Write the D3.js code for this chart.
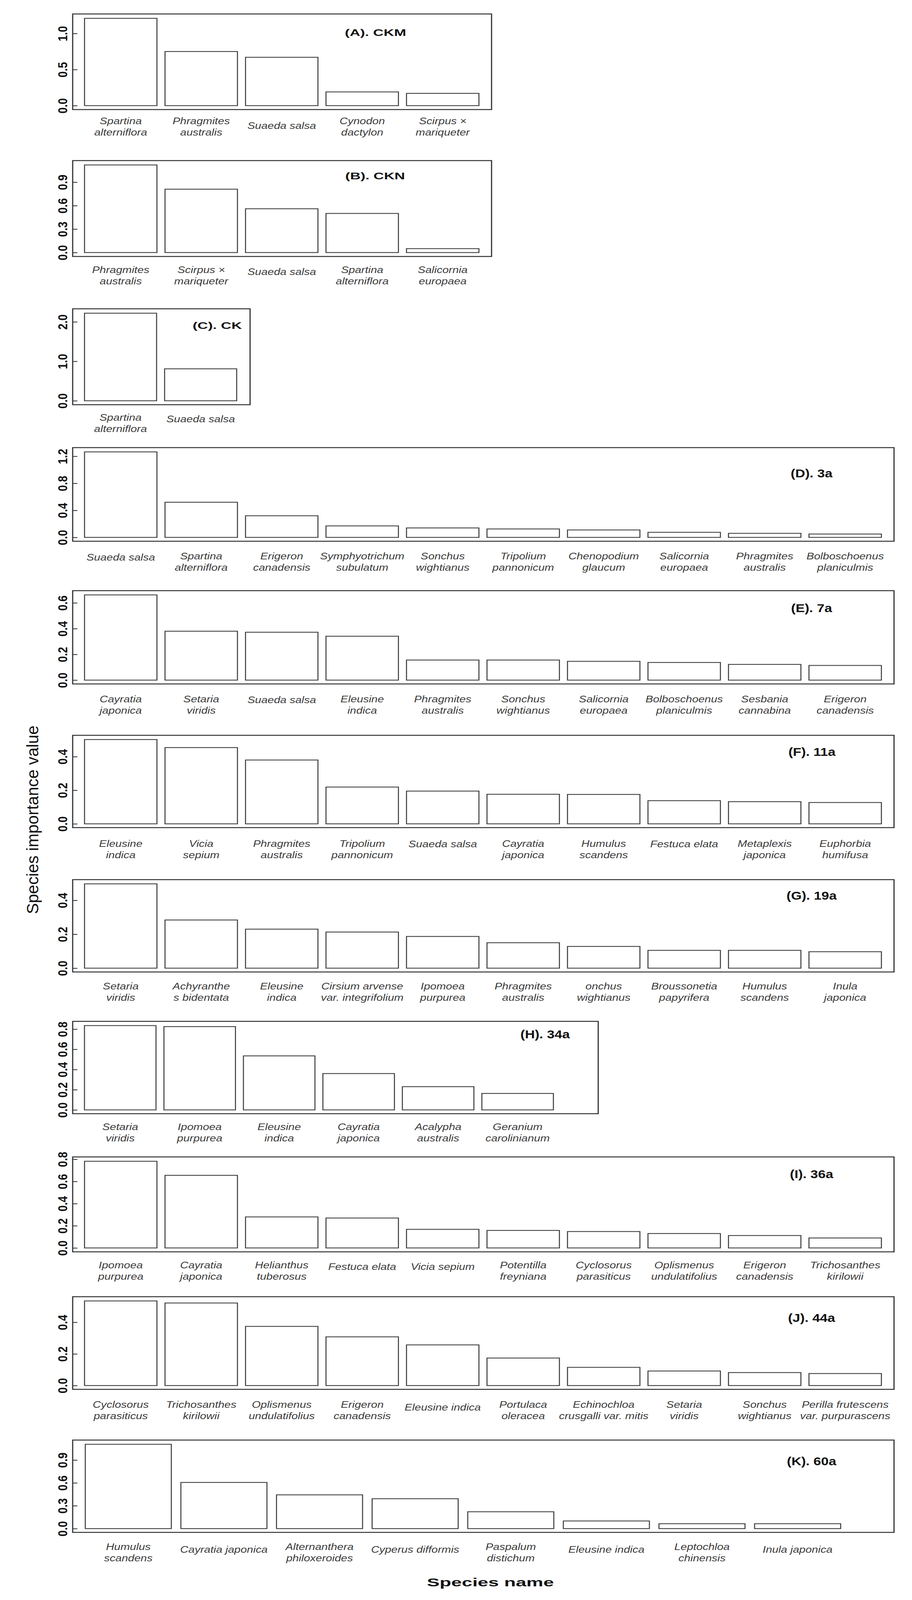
<!DOCTYPE html>
<html>
<head>
<meta charset="utf-8">
<script src="https://cdn.jsdelivr.net/npm/d3@7/dist/d3.min.js"></script>
<style>
  html, body { margin: 0; padding: 0; background: #fff; overflow: hidden; }
  svg { display: block; width: 100vw; height: 100vh; }
</style>
</head>
<body>
<svg id="chart" viewBox="0 0 2334 4922" preserveAspectRatio="none"></svg>
<script>
// ---- data: species (x categories), importance values, y tick labels per panel ----
const speciesA = ["Spartina\nalterniflora", "Phragmites\naustralis", "Suaeda salsa", "Cynodon\ndactylon", "Scirpus ×\nmariqueter"];
const valuesA = [1.21, 0.75, 0.67, 0.19, 0.17];
const ticksA = [0, 0.5, 1.0];

const speciesB = ["Phragmites\naustralis", "Scirpus ×\nmariqueter", "Suaeda salsa", "Spartina\nalterniflora", "Salicornia\neuropaea"];
const valuesB = [1.12, 0.81, 0.56, 0.50, 0.05];
const ticksB = [0, 0.3, 0.6, 0.9];

const speciesC = ["Spartina\nalterniflora", "Suaeda salsa"];
const valuesC = [2.22, 0.81];
const ticksC = [0, 1.0, 2.0];

const speciesD = ["Suaeda salsa", "Spartina\nalterniflora", "Erigeron\ncanadensis", "Symphyotrichum\nsubulatum", "Sonchus\nwightianus",
  "Tripolium\npannonicum", "Chenopodium\nglaucum", "Salicornia\neuropaea", "Phragmites\naustralis", "Bolboschoenus\nplaniculmis"];
const valuesD = [1.265, 0.52, 0.32, 0.17, 0.14, 0.125, 0.11, 0.075, 0.06, 0.05];
const ticksD = [0, 0.4, 0.8, 1.2];

const speciesE = ["Cayratia\njaponica", "Setaria\nviridis", "Suaeda salsa", "Eleusine\nindica", "Phragmites\naustralis",
  "Sonchus\nwightianus", "Salicornia\neuropaea", "Bolboschoenus\nplaniculmis", "Sesbania\ncannabina", "Erigeron\ncanadensis"];
const valuesE = [0.662, 0.38, 0.372, 0.341, 0.156, 0.156, 0.146, 0.137, 0.122, 0.114];
const ticksE = [0, 0.2, 0.4, 0.6];

const speciesF = ["Eleusine\nindica", "Vicia\nsepium", "Phragmites\naustralis", "Tripolium\npannonicum", "Suaeda salsa",
  "Cayratia\njaponica", "Humulus\nscandens", "Festuca elata", "Metaplexis\njaponica", "Euphorbia\nhumifusa"];
const valuesF = [0.502, 0.454, 0.38, 0.219, 0.195, 0.176, 0.175, 0.138, 0.132, 0.127];
const ticksF = [0, 0.2, 0.4];

const speciesG = ["Setaria\nviridis", "Achyranthe\ns bidentata", "Eleusine\nindica", "Cirsium arvense\nvar. integrifolium", "Ipomoea\npurpurea",
  "Phragmites\naustralis", "onchus\nwightianus", "Broussonetia\npapyrifera", "Humulus\nscandens", "Inula\njaponica"];
const valuesG = [0.497, 0.284, 0.23, 0.213, 0.187, 0.15, 0.128, 0.105, 0.105, 0.097];
const ticksG = [0, 0.2, 0.4];

const speciesH = ["Setaria\nviridis", "Ipomoea\npurpurea", "Eleusine\nindica", "Cayratia\njaponica", "Acalypha\naustralis", "Geranium\ncarolinianum"];
const valuesH = [0.835, 0.825, 0.535, 0.36, 0.23, 0.163];
const ticksH = [0, 0.2, 0.4, 0.6, 0.8];

const speciesI = ["Ipomoea\npurpurea", "Cayratia\njaponica", "Helianthus\ntuberosus", "Festuca elata", "Vicia sepium",
  "Potentilla\nfreyniana", "Cyclosorus\nparasiticus", "Oplismenus\nundulatifolius", "Erigeron\ncanadensis", "Trichosanthes\nkirilowii"];
const valuesI = [0.782, 0.655, 0.28, 0.27, 0.168, 0.158, 0.148, 0.13, 0.112, 0.09];
const ticksI = [0, 0.2, 0.4, 0.6, 0.8];

const speciesJ = ["Cyclosorus\nparasiticus", "Trichosanthes\nkirilowii", "Oplismenus\nundulatifolius", "Erigeron\ncanadensis", "Eleusine indica",
  "Portulaca\noleracea", "Echinochloa\ncrusgalli var. mitis", "Setaria\nviridis", "Sonchus\nwightianus", "Perilla frutescens\nvar. purpurascens"];
const valuesJ = [0.535, 0.522, 0.374, 0.308, 0.257, 0.174, 0.115, 0.092, 0.082, 0.076];
const ticksJ = [0, 0.2, 0.4];

const speciesK = ["Humulus\nscandens", "Cayratia japonica", "Alternanthera\nphiloxeroides", "Cyperus difformis", "Paspalum\ndistichum",
  "Eleusine indica", "Leptochloa\nchinensis", "Inula japonica"];
const valuesK = [1.107, 0.606, 0.443, 0.392, 0.221, 0.10, 0.064, 0.064];
const ticksK = [0, 0.3, 0.6, 0.9];

const titles = ["(A). CKM", "(B). CKN", "(C). CK", "(D). 3a", "(E). 7a", "(F). 11a", "(G). 19a", "(H). 34a", "(I). 36a", "(J). 44a", "(K). 60a"];

// ---- layout of each panel (pixels in the 2334 x 4922 drawing) ----
const layout = [
  { species: speciesA, values: valuesA, ticks: ticksA, top: 43,   bottom: 337,  right: 1258, step: 206,   tx: 961,  tdy: 68, tsize: 28, tlen: 157, ldy: 45, sdy: 15 },
  { species: speciesB, values: valuesB, ticks: ticksB, top: 494,  bottom: 789,  right: 1258, step: 206,   tx: 960,  tdy: 58, tsize: 28, tlen: 153, ldy: 51, sdy: 6 },
  { species: speciesC, values: valuesC, ticks: ticksC, top: 950,  bottom: 1245, right: 640,  step: 205,   tx: 556,  tdy: 62, tsize: 28, tlen: 126, ldy: 49, sdy: 5 },
  { species: speciesD, values: valuesD, ticks: ticksD, top: 1377, bottom: 1665, right: 2288, step: 206,   tx: 2077, tdy: 91, tsize: 35, ldy: 56, sdy: 3 },
  { species: speciesE, values: valuesE, ticks: ticksE, top: 1817, bottom: 2104, right: 2288, step: 206,   tx: 2077, tdy: 66, tsize: 35, ldy: 56, sdy: 3 },
  { species: speciesF, values: valuesF, ticks: ticksF, top: 2262, bottom: 2546, right: 2288, step: 206,   tx: 2078, tdy: 63, tsize: 35, ldy: 59, sdy: 1 },
  { species: speciesG, values: valuesG, ticks: ticksG, top: 2706, bottom: 2990, right: 2288, step: 206,   tx: 2077, tdy: 62, tsize: 35, ldy: 54, sdy: 0 },
  { species: speciesH, values: valuesH, ticks: ticksH, top: 3142, bottom: 3426, right: 1531, step: 203.4, tx: 1395, tdy: 52, tsize: 35, ldy: 50, sdy: 0 },
  { species: speciesI, values: valuesI, ticks: ticksI, top: 3559, bottom: 3851, right: 2288, step: 206,   tx: 2077, tdy: 65, tsize: 35, ldy: 51, sdy: 5 },
  { species: speciesJ, values: valuesJ, ticks: ticksJ, top: 3989, bottom: 4274, right: 2288, step: 206,   tx: 2077, tdy: 77, tsize: 35, ldy: 57, sdy: 8 },
  { species: speciesK, values: valuesK, ticks: ticksK, top: 4430, bottom: 4714, right: 2288, step: 244.7, tx: 2077, tdy: 78, tsize: 35, ldy: 54, sdy: 8 }
];

const left = 186;
const font = "'Liberation Sans', Arial, Helvetica, sans-serif";
const svg = d3.select("#chart");

layout.forEach((p, k) => {
  const n = p.values.length;
  const max = d3.max(p.values);
  const g = svg.append("g");

  const start = left + 20;
  const x = d3.scaleBand()
    .domain(d3.range(n))
    .range([start, start + n * p.step])
    .paddingInner(0.1)
    .paddingOuter(0.05);
  const y = d3.scaleLinear()
    .domain([-0.045 * max, 1.05 * max])
    .range([p.bottom, p.top]);

  // bars
  g.selectAll("rect.bar")
    .data(p.values)
    .enter().append("rect")
    .attr("class", "bar")
    .attr("x", (d, i) => x(i))
    .attr("y", d => y(d))
    .attr("width", x.bandwidth())
    .attr("height", d => y(0) - y(d))
    .attr("fill", "#fff")
    .attr("stroke", "#444")
    .attr("stroke-width", 2.7);

  // frame
  g.append("rect")
    .attr("x", left).attr("y", p.top)
    .attr("width", p.right - left).attr("height", p.bottom - p.top)
    .attr("fill", "none")
    .attr("stroke", "#333")
    .attr("stroke-width", 3);

  // y axis: short ticks pointing into the plot, rotated bold labels
  const ax = g.append("g")
    .attr("transform", `translate(${left},0)`)
    .call(d3.axisLeft(y).tickValues(p.ticks).tickSize(-12).tickFormat(d3.format(".1f")));
  ax.select(".domain").remove();
  ax.attr("font-size", 34).attr("font-family", font).attr("font-weight", "bold");
  ax.selectAll(".tick line").attr("stroke", "#333").attr("stroke-width", 2.5);
  ax.selectAll(".tick text")
    .attr("transform", "rotate(-90)")
    .attr("x", 0).attr("y", -14).attr("dy", 0)
    .attr("text-anchor", "middle")
    .attr("fill", "#111");

  // panel title
  const t = g.append("text")
    .attr("x", p.tx).attr("y", p.top + p.tdy)
    .attr("text-anchor", "middle")
    .attr("font-family", font).attr("font-weight", "bold")
    .attr("font-size", p.tsize)
    .attr("fill", "#111")
    .text(titles[k]);
  if (p.tlen) t.attr("textLength", p.tlen).attr("lengthAdjust", "spacingAndGlyphs");

  // species labels
  const lab = g.selectAll("text.lab")
    .data(p.species)
    .enter().append("text")
    .attr("class", "lab")
    .attr("text-anchor", "middle")
    .attr("font-family", font).attr("font-style", "italic")
    .attr("font-size", 29)
    .attr("fill", "#3a3a3a")
    .attr("transform", (d, i) => {
      const lines = d.split("\n");
      const yy = p.bottom + p.ldy + (lines.length === 1 ? p.sdy : 0);
      return `translate(${x(i) + x.bandwidth() / 2},${yy})`;
    });
  lab.each(function(d) {
    d3.select(this).selectAll("tspan")
      .data(d.split("\n"))
      .enter().append("tspan")
      .attr("x", 0)
      .attr("y", (s, j) => j * 35)
      .text(s => s);
  });
});

// axis titles
svg.append("text")
  .attr("transform", "translate(98,2522) rotate(-90)")
  .attr("text-anchor", "middle")
  .attr("font-family", font).attr("font-size", 42)
  .attr("fill", "#111")
  .attr("textLength", 580).attr("lengthAdjust", "spacingAndGlyphs")
  .text("Species importance value");

svg.append("text")
  .attr("x", 1255).attr("y", 4880)
  .attr("text-anchor", "middle")
  .attr("font-family", font).attr("font-size", 36).attr("font-weight", "bold")
  .attr("fill", "#111")
  .attr("textLength", 325).attr("lengthAdjust", "spacingAndGlyphs")
  .text("Species name");
</script>
</body>
</html>
